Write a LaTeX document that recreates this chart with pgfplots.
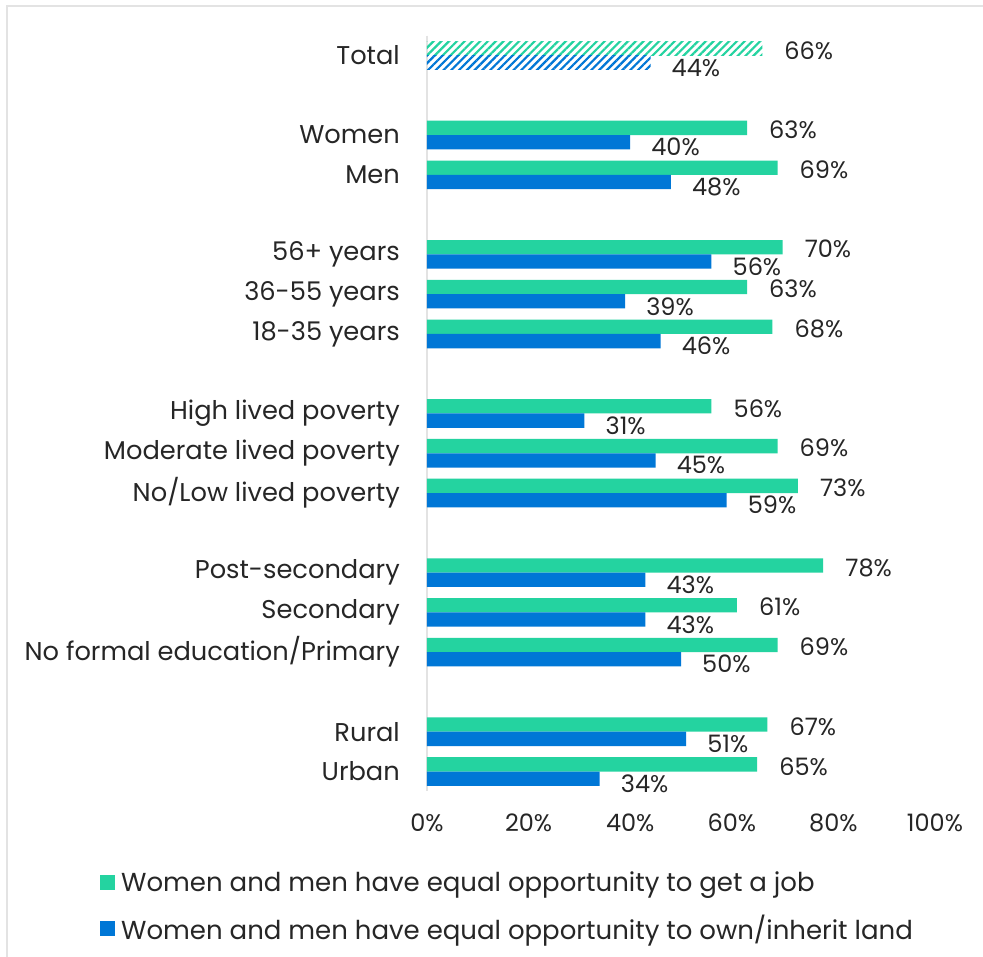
\documentclass[border=0pt]{standalone}
\usepackage{fontspec}
\setmainfont{Poppins}
\usepackage{pgfplots}
\pgfplotsset{compat=1.18}
\usetikzlibrary{patterns.meta}
\definecolor{cgreen}{HTML}{24D3A0}
\definecolor{cblue}{HTML}{0077D6}
\definecolor{ctext}{HTML}{262626}
\definecolor{cframe}{HTML}{E3E3E3}
\newcommand\cf{\fontsize{25.7}{29}\selectfont}
\newcommand\lf{\fontsize{26}{29}\selectfont}
\newcommand\nf{\fontsize{24}{28}\selectfont}
\begin{document}
\begin{tikzpicture}
\useasboundingbox (0,0) rectangle (983pt,957pt);
\fill[white] (0,0) rectangle (983pt,957pt);
\draw[cframe, line width=2pt] (7pt,0pt) -- (7pt,951pt) -- (983pt,951pt);
\begin{axis}[
  at={(427pt,165.6pt)}, anchor=south west,
  scale only axis, width=508pt, height=755.8pt,
  xbar, bar width=0.36, 
  xmin=0, xmax=100, ymin=-0.5, ymax=18.5, y dir=reverse,
  axis lines*=left,
  x axis line style={draw=none},
  y axis line style={draw=cframe, line width=1.5pt},
  xtick={0,20,40,60,80,100},
  xticklabel={\pgfmathprintnumber{\tick}\%},
  /pgf/number format/assume math mode=true,
  ytick={0,2,3,5,6,7,9,10,11,13,14,15,17,18},
  yticklabels={Total,Women,Men,56+ years,36-55 years,18-35 years,High lived poverty,Moderate lived poverty,No/Low lived poverty,Post-secondary,Secondary,No formal education/Primary,Rural,Urban},
  major tick length=0pt,
  tick label style={font=\cf, text=ctext},
  yticklabel style={anchor=east, inner sep=0pt, xshift=-27pt},
  xticklabel style={font=\nf, anchor=north, inner sep=0pt, yshift=-22pt},
  nodes near coords={\pgfmathprintnumber{\pgfplotspointmeta}\%},
  nodes near coords style={font=\nf, text=ctext, anchor=west, inner sep=0pt},
  legend style={draw=none, fill=none, font=\lf, text=ctext,
    at={(-0.6437,-0.106)}, anchor=north west, inner sep=0pt,
    row sep=22pt, nodes={inner sep=0pt, anchor=west}},
  legend cell align=left,
  legend image code/.code={\fill[#1] (0pt,-7.5pt) rectangle (15pt,7.5pt);},
]
% hatched Total bars
\addplot[forget plot, draw=none, pattern={Lines[angle=45,distance=5.5pt,line width=2.2pt]}, pattern color=cgreen, bar shift=0pt,
  nodes near coords style={xshift=22pt, yshift=-2pt}]
  coordinates {(66,-0.18)};
\addplot[forget plot, draw=none, pattern={Lines[angle=45,distance=5.5pt,line width=2.2pt]}, pattern color=cblue, bar shift=0pt,
  nodes near coords style={xshift=21pt, yshift=-5pt}]
  coordinates {(44,0.18)};
% job
\addplot[draw=none, fill=cgreen, bar shift=0pt,
  nodes near coords style={xshift=22pt, yshift=-2pt}]
  coordinates {
  (63,1.82) (69,2.82)
  (70,4.82) (63,5.82) (68,6.82)
  (56,8.82) (69,9.82) (73,10.82)
  (78,12.82) (61,13.82) (69,14.82)
  (67,16.82) (65,17.82)};
\addlegendentry{\hspace{6pt}Women and men have equal opportunity to get a job}
% land
\addplot[draw=none, fill=cblue, bar shift=0pt,
  nodes near coords style={xshift=21pt, yshift=-5pt}]
  coordinates {
  (40,2.18) (48,3.18)
  (56,5.18) (39,6.18) (46,7.18)
  (31,9.18) (45,10.18) (59,11.18)
  (43,13.18) (43,14.18) (50,15.18)
  (51,17.18) (34,18.18)};
\addlegendentry{\hspace{6pt}Women and men have equal opportunity to own/inherit land}
\end{axis}
\end{tikzpicture}
\end{document}
